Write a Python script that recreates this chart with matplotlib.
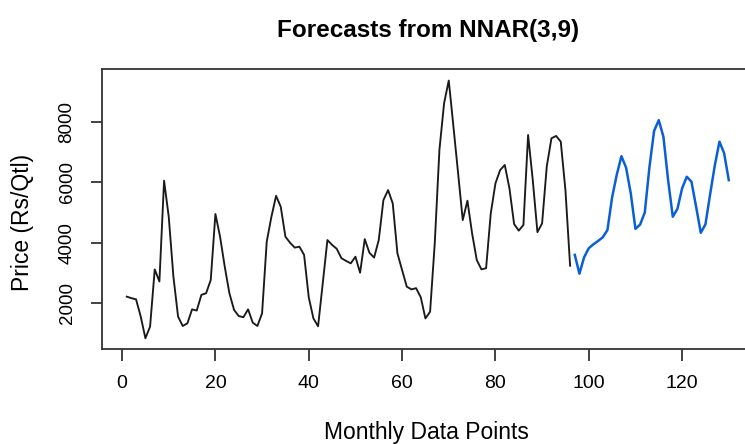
import matplotlib
matplotlib.use("Agg")
import matplotlib.pyplot as plt

# ---- data ----
obs_t = list(range(1, 97))
obs_price = [2220, 2170, 2130, 1560, 845, 1230, 3120, 2720, 6050, 4860,
             2880, 1560, 1250, 1340, 1800, 1760, 2280, 2330, 2770, 4950,
             4200, 3210, 2330, 1780, 1580, 1540, 1800, 1360, 1250, 1670,
             4040, 4860, 5550, 5190, 4200, 4000, 3840, 3870, 3600, 2200,
             1500, 1240, 2660, 4090, 3930, 3800, 3490, 3400, 3320, 3540,
             3010, 4120, 3670, 3510, 4090, 5410, 5740, 5300, 3650, 3100,
             2550, 2460, 2500, 2200, 1500, 1720, 3980, 7070, 8610, 9360,
             7840, 6300, 4750, 5390, 4310, 3430, 3120, 3160, 4970, 5960,
             6400, 6570, 5800, 4620, 4400, 4590, 7560, 6070, 4350, 4640,
             6520, 7450, 7530, 7340, 5740, 3240]
fc_t = list(range(97, 131))
fc_price = [3600, 2980, 3520, 3820, 3950, 4060, 4180, 4420, 5500, 6250,
            6860, 6480, 5630, 4460, 4600, 5000, 6500, 7700, 8050, 7500,
            6070, 4860, 5120, 5800, 6180, 6020, 5190, 4330, 4610, 5600,
            6550, 7340, 6960, 6070]
x_ticks = [0, 20, 40, 60, 80, 100, 120]
y_ticks = [2000, 4000, 6000, 8000]
title = "Forecasts from NNAR(3,9)"
xlabel = "Monthly Data Points"
ylabel = "Price (Rs/Qtl)"

plt.rcParams['font.family'] = ['Liberation Sans', 'DejaVu Sans']

W, H = 745, 444
fig = plt.figure(figsize=(W / 100, H / 100), dpi=100)

x0, x1 = -4.3, 135.16
y0, y1 = 490, 9731
left_px, top_px, bot_px = 102, 69.3, 349
px_per_unit = 4.667
ax = fig.add_axes([left_px / W, (H - bot_px) / H,
                   (x1 - x0) * px_per_unit / W, (bot_px - top_px) / H])

ax.plot(obs_t, obs_price, color='#1a1a1a', lw=1.35)
ax.plot(fc_t, fc_price, color='#0a5fd6', lw=1.8)

ax.set_xlim(x0, x1)
ax.set_ylim(y0, y1)
ax.set_xticks(x_ticks)
ax.set_yticks(y_ticks)
ax.set_xticklabels([str(v) for v in x_ticks], fontsize=14)
ax.set_yticklabels([str(v) for v in y_ticks], fontsize=13.5)
for lab in ax.get_yticklabels():
    lab.set_rotation(90)
    lab.set_va('center')
ax.tick_params(axis='x', length=8.6, width=1.2, pad=10, color='#222222')
ax.tick_params(axis='y', length=8, width=1.2, pad=11, color='#222222')

for s in ax.spines.values():
    s.set_linewidth(1.3)
    s.set_color('#333333')

fig.text(428 / W, 1 - 31 / H, title, ha='center', va='center',
         fontsize=17.5, fontweight='bold')
fig.text(426 / W, 1 - 432 / H, xlabel, ha='center', va='center', fontsize=16.5)
fig.text(23 / W, 1 - 222 / H, ylabel, ha='center', va='center',
         fontsize=16.5, rotation=90)

fig.savefig('out.png', dpi=100, facecolor='white')
